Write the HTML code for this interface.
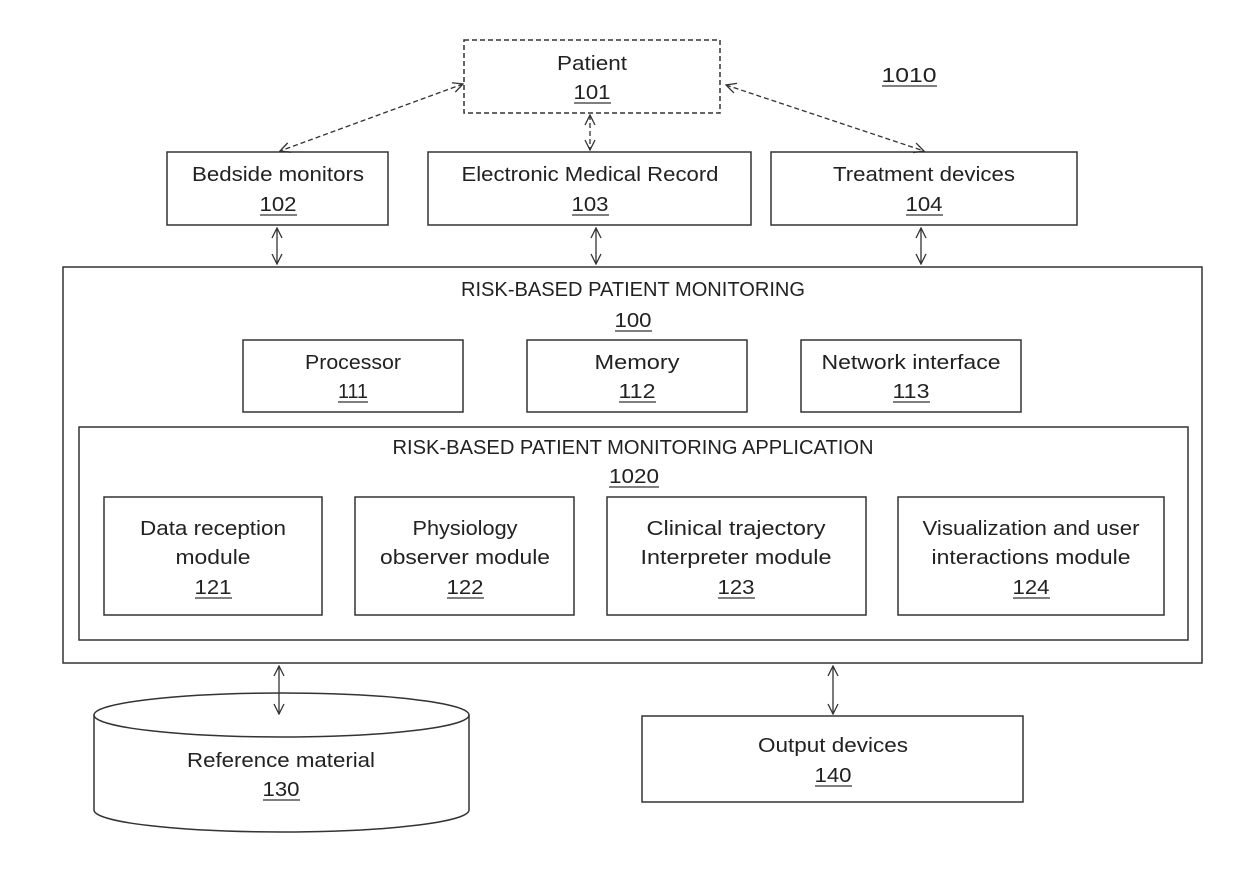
<!DOCTYPE html>
<html><head><meta charset="utf-8"><style>
html,body{margin:0;padding:0;background:#fff;}
svg{display:block;}
text{font-family:"Liberation Sans",sans-serif;font-size:20px;fill:#222;}
</style></head><body>
<svg width="1240" height="876" viewBox="0 0 1240 876" xmlns="http://www.w3.org/2000/svg">
<defs>
<marker id="a" viewBox="0 0 12 12" refX="11" refY="6" markerWidth="12" markerHeight="12" markerUnits="userSpaceOnUse" orient="auto-start-reverse">
<path d="M1,1 L11,6 L1,11" fill="none" stroke="#333" stroke-width="1.3"/>
</marker>
</defs>
<g fill="none" stroke="#333" stroke-width="1.5">
<rect x="464" y="40" width="256" height="73" stroke-dasharray="5,3"/>
<rect x="167" y="152" width="221" height="73"/>
<rect x="428" y="152" width="323" height="73"/>
<rect x="771" y="152" width="306" height="73"/>
<rect x="63" y="267" width="1139" height="396"/>
<rect x="243" y="340" width="220" height="72"/>
<rect x="527" y="340" width="220" height="72"/>
<rect x="801" y="340" width="220" height="72"/>
<rect x="79" y="427" width="1109" height="213"/>
<rect x="104" y="497" width="218" height="118"/>
<rect x="355" y="497" width="219" height="118"/>
<rect x="607" y="497" width="259" height="118"/>
<rect x="898" y="497" width="266" height="118"/>
<rect x="642" y="716" width="381" height="86"/>
<path d="M94,715 L94,810 A187.5,22 0 0 0 469,810 L469,715"/>
<ellipse cx="281.5" cy="715" rx="187.5" ry="22"/>
</g>
<g fill="none" stroke="#333" stroke-width="1.3" marker-start="url(#a)" marker-end="url(#a)">
<line x1="277" y1="228" x2="277" y2="264"/>
<line x1="596" y1="228" x2="596" y2="264"/>
<line x1="921" y1="228" x2="921" y2="264"/>
<line x1="279" y1="666" x2="279" y2="714"/>
<line x1="833" y1="666" x2="833" y2="714"/>
<g stroke-dasharray="5,3">
<line x1="463" y1="84" x2="280" y2="151"/>
<line x1="726" y1="85" x2="924" y2="151"/>
<line x1="590" y1="115" x2="590" y2="150"/>
</g>
</g>
<g text-anchor="middle" style="text-decoration:none">
<text x="592" y="70" textLength="70" lengthAdjust="spacingAndGlyphs">Patient</text>
<text x="592" y="99" textLength="37" lengthAdjust="spacingAndGlyphs">101</text>
<text x="909" y="82" textLength="55" lengthAdjust="spacingAndGlyphs">1010</text>
<text x="278" y="181" textLength="172" lengthAdjust="spacingAndGlyphs">Bedside monitors</text>
<text x="278" y="211" textLength="37" lengthAdjust="spacingAndGlyphs">102</text>
<text x="590" y="181" textLength="257" lengthAdjust="spacingAndGlyphs">Electronic Medical Record</text>
<text x="590" y="211" textLength="37" lengthAdjust="spacingAndGlyphs">103</text>
<text x="924" y="181" textLength="182" lengthAdjust="spacingAndGlyphs">Treatment devices</text>
<text x="924" y="211" textLength="37" lengthAdjust="spacingAndGlyphs">104</text>
<text x="633" y="296" textLength="344" lengthAdjust="spacingAndGlyphs">RISK-BASED PATIENT MONITORING</text>
<text x="633" y="327" textLength="37" lengthAdjust="spacingAndGlyphs">100</text>
<text x="353" y="369" textLength="96" lengthAdjust="spacingAndGlyphs">Processor</text>
<text x="353" y="398" textLength="30" lengthAdjust="spacingAndGlyphs">111</text>
<text x="637" y="369" textLength="85" lengthAdjust="spacingAndGlyphs">Memory</text>
<text x="637" y="398" textLength="37" lengthAdjust="spacingAndGlyphs">112</text>
<text x="911" y="369" textLength="179" lengthAdjust="spacingAndGlyphs">Network interface</text>
<text x="911" y="398" textLength="37" lengthAdjust="spacingAndGlyphs">113</text>
<text x="633" y="454" textLength="481" lengthAdjust="spacingAndGlyphs">RISK-BASED PATIENT MONITORING APPLICATION</text>
<text x="634" y="483" textLength="50" lengthAdjust="spacingAndGlyphs">1020</text>
<text x="213" y="535" textLength="146" lengthAdjust="spacingAndGlyphs">Data reception</text>
<text x="213" y="564" textLength="75" lengthAdjust="spacingAndGlyphs">module</text>
<text x="213" y="594" textLength="37" lengthAdjust="spacingAndGlyphs">121</text>
<text x="465" y="535" textLength="105" lengthAdjust="spacingAndGlyphs">Physiology</text>
<text x="465" y="564" textLength="170" lengthAdjust="spacingAndGlyphs">observer module</text>
<text x="465" y="594" textLength="37" lengthAdjust="spacingAndGlyphs">122</text>
<text x="736" y="535" textLength="179" lengthAdjust="spacingAndGlyphs">Clinical  trajectory</text>
<text x="736" y="564" textLength="191" lengthAdjust="spacingAndGlyphs">Interpreter module</text>
<text x="736" y="594" textLength="37" lengthAdjust="spacingAndGlyphs">123</text>
<text x="1031" y="535" textLength="217" lengthAdjust="spacingAndGlyphs">Visualization and user</text>
<text x="1031" y="564" textLength="199" lengthAdjust="spacingAndGlyphs">interactions module</text>
<text x="1031" y="594" textLength="37" lengthAdjust="spacingAndGlyphs">124</text>
<text x="281" y="767" textLength="188" lengthAdjust="spacingAndGlyphs">Reference material</text>
<text x="281" y="796" textLength="37" lengthAdjust="spacingAndGlyphs">130</text>
<text x="833" y="752" textLength="150" lengthAdjust="spacingAndGlyphs">Output devices</text>
<text x="833" y="782" textLength="37" lengthAdjust="spacingAndGlyphs">140</text>
</g>
<g stroke="#333" stroke-width="1.3">
<line x1="574" y1="103" x2="611" y2="103"/>
<line x1="882" y1="86" x2="937" y2="86"/>
<line x1="260" y1="215" x2="297" y2="215"/>
<line x1="572" y1="215" x2="609" y2="215"/>
<line x1="906" y1="215" x2="943" y2="215"/>
<line x1="615" y1="331" x2="652" y2="331"/>
<line x1="338" y1="402" x2="368" y2="402"/>
<line x1="619" y1="402" x2="656" y2="402"/>
<line x1="893" y1="402" x2="930" y2="402"/>
<line x1="609" y1="487" x2="659" y2="487"/>
<line x1="195" y1="598" x2="232" y2="598"/>
<line x1="447" y1="598" x2="484" y2="598"/>
<line x1="718" y1="598" x2="755" y2="598"/>
<line x1="1013" y1="598" x2="1050" y2="598"/>
<line x1="263" y1="800" x2="300" y2="800"/>
<line x1="815" y1="786" x2="852" y2="786"/>
</g>
</svg>
</body></html>
